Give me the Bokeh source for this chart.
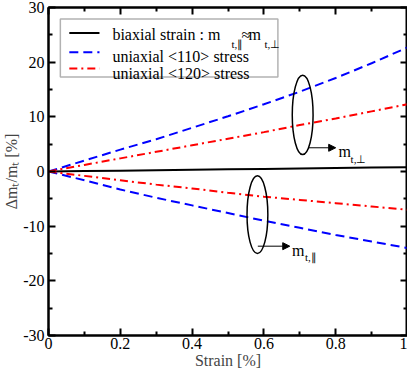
from bokeh.plotting import figure
from bokeh.models import (FixedTicker, CustomJSTickFormatter, LinearAxis, Range1d,
                          Label, Arrow, NormalHead, BoxAnnotation, CustomLabelingPolicy)
from bokeh.embed import file_html
from bokeh.resources import INLINE

# ---------------- data ----------------
strain = [0.0, 0.1, 0.2, 0.3, 0.4, 0.5, 0.6, 0.7, 0.8, 0.9, 1.0]
biaxial = [0.0, 0.08, 0.16, 0.24, 0.32, 0.40, 0.48, 0.56, 0.64, 0.72, 0.80]
u110_perp = [0.0, 2.0, 4.0, 5.9, 8.0, 10.1, 12.3, 14.6, 17.1, 19.8, 22.7]
u120_perp = [0.0, 1.2, 2.4, 3.6, 4.8, 6.0, 7.2, 8.5, 9.7, 11.0, 12.3]
u110_par = [0.0, -1.6, -3.3, -4.8, -6.2, -7.6, -9.0, -10.3, -11.6, -12.8, -14.0]
u120_par = [0.0, -0.8, -1.6, -2.4, -3.1, -3.9, -4.6, -5.2, -5.8, -6.4, -7.0]

x_ticks = [0, 0.2, 0.4, 0.6, 0.8, 1]
x_minor = [0.1, 0.3, 0.5, 0.7, 0.9]
y_ticks = [-30, -20, -10, 0, 10, 20, 30]
y_minor = [-25, -15, -5, 5, 15, 25]

legend_labels = ["biaxial strain : m", "uniaxial <110> stress", "uniaxial <120> stress"]
x_title = "Strain [%]"
y_title = "\u0394m\u209c/m\u209c [%]"

FONT = "Liberation Serif"
BLUE = "#0000ff"
RED = "#ff0000"

p = figure(width=407, height=371, x_range=Range1d(0, 1), y_range=Range1d(-30, 30),
           output_backend="svg", toolbar_location=None,
           min_border_left=42, min_border_right=0, min_border_top=7, min_border_bottom=10)
p.xgrid.visible = False
p.ygrid.visible = False
p.outline_line_color = "black"
p.outline_line_width = 2
p.background_fill_color = "white"
p.border_fill_color = "white"

fmt = CustomJSTickFormatter(code="return tick.toString();")
no_labels = CustomLabelingPolicy(code="for (const i of indices) { indices.unset(i) } return indices;")

def style_axis(ax, labels=True):
    ax.axis_line_width = 2
    ax.axis_line_color = "black"
    ax.major_tick_in = 7
    ax.major_tick_out = 0
    ax.minor_tick_in = 4
    ax.minor_tick_out = 0
    ax.major_tick_line_width = 2
    ax.minor_tick_line_width = 2
    ax.major_tick_line_color = "black"
    ax.minor_tick_line_color = "black"
    ax.major_label_text_font = FONT
    ax.major_label_text_color = "black"
    if labels:
        ax.major_label_text_font_size = "16px"
    else:
        ax.major_label_text_font_size = "0px"
        ax.major_label_standoff = 0
        ax.major_label_policy = no_labels

p.xaxis.ticker = FixedTicker(ticks=x_ticks, minor_ticks=x_minor)
p.yaxis.ticker = FixedTicker(ticks=y_ticks, minor_ticks=y_minor)
p.xaxis.formatter = fmt
p.yaxis.formatter = fmt
style_axis(p.xaxis[0])
style_axis(p.yaxis[0])
p.xaxis.major_label_standoff = 2
p.yaxis.major_label_standoff = 4
p.xaxis.major_label_text_line_height = 0.9

p.xaxis.axis_label = x_title
p.xaxis.axis_label_text_font = FONT
p.xaxis.axis_label_text_font_size = "16px"
p.xaxis.axis_label_text_font_style = "normal"
p.xaxis.axis_label_standoff = 0
p.xaxis.axis_label_text_line_height = 0.9

p.yaxis.axis_label = y_title
p.yaxis.axis_label_text_font = FONT
p.yaxis.axis_label_text_font_size = "16px"
p.yaxis.axis_label_text_font_style = "normal"
p.yaxis.axis_label_standoff = 0

top = LinearAxis(ticker=FixedTicker(ticks=x_ticks, minor_ticks=x_minor), formatter=fmt)
right = LinearAxis(ticker=FixedTicker(ticks=y_ticks, minor_ticks=y_minor), formatter=fmt)
style_axis(top, labels=False)
style_axis(right, labels=False)
p.add_layout(top, "above")
p.add_layout(right, "right")

def txt(x, y, s, size="16px", dx=0, dy=0):
    p.add_layout(Label(x=x, y=y, text=s, text_font=FONT, text_font_size=size,
                       x_offset=dx, y_offset=dy,
                       text_baseline="alphabetic", text_align="left", text_color="black"))

# ---------------- data lines ----------------
p.line(strain, biaxial, line_color="black", line_width=2)
p.line(strain, u110_perp, line_color=BLUE, line_width=2, line_dash="9 5")
p.line(strain, u110_par, line_color=BLUE, line_width=2, line_dash="9 5")
p.line(strain, u120_perp, line_color=RED, line_width=2, line_dash="8 4 2 4")
p.line(strain, u120_par, line_color=RED, line_width=2, line_dash="8 4 2 4")

# ---------------- legend (drawn by hand) ----------------
p.add_layout(BoxAnnotation(left=0.033, right=0.639, bottom=17.3, top=27.9,
                           fill_color="white", fill_alpha=1.0, level="underlay",
                           line_color="black", line_width=1.5))
p.segment(x0=[0.058], y0=[25.35], x1=[0.142], y1=[25.35], line_color="black", line_width=2)
p.segment(x0=[0.058], y0=[21.8], x1=[0.142], y1=[21.8], line_color=BLUE, line_width=2, line_dash="9 5")
p.segment(x0=[0.058], y0=[18.85], x1=[0.142], y1=[18.85], line_color=RED, line_width=2, line_dash="8 4 2 4")

LX, LY = 0.178, 25.0
txt(LX, LY, legend_labels[0])
txt(LX, LY, "t,\u2225", "11px", dx=119, dy=-9)
txt(LX, LY, "\u2248", dx=129)
txt(LX, LY, "m", dx=136)
txt(LX, LY, "t,\u22a5", "11px", dx=152, dy=-9)
txt(LX, LY, legend_labels[1], dy=-22)
txt(LX, LY, legend_labels[2], dy=-39)

# ---------------- ellipses, arrows and labels ----------------
p.ellipse(x=[0.708], y=[10.35], width=[0.058], height=[14.5],
          fill_alpha=0, line_color="black", line_width=1.5)
p.ellipse(x=[0.582], y=[-7.9], width=[0.058], height=[14.2],
          fill_alpha=0, line_color="black", line_width=1.5)
p.add_layout(Arrow(x_start=0.725, y_start=4.34, x_end=0.80, y_end=4.34, line_width=1,
                   end=NormalHead(size=7, fill_color="black", line_color="black")))
p.add_layout(Arrow(x_start=0.583, y_start=-13.66, x_end=0.672, y_end=-13.66, line_width=1,
                   end=NormalHead(size=7, fill_color="black", line_color="black")))
txt(0.808, 4.34, "m", dy=-4)
txt(0.808, 4.34, "t,\u22a5", "11px", dx=12, dy=-11)
txt(0.678, -13.66, "m", dy=-4)
txt(0.678, -13.66, "t,\u2225", "11px", dx=13, dy=-11)

open("out.html", "w").write(file_html(p, INLINE))
